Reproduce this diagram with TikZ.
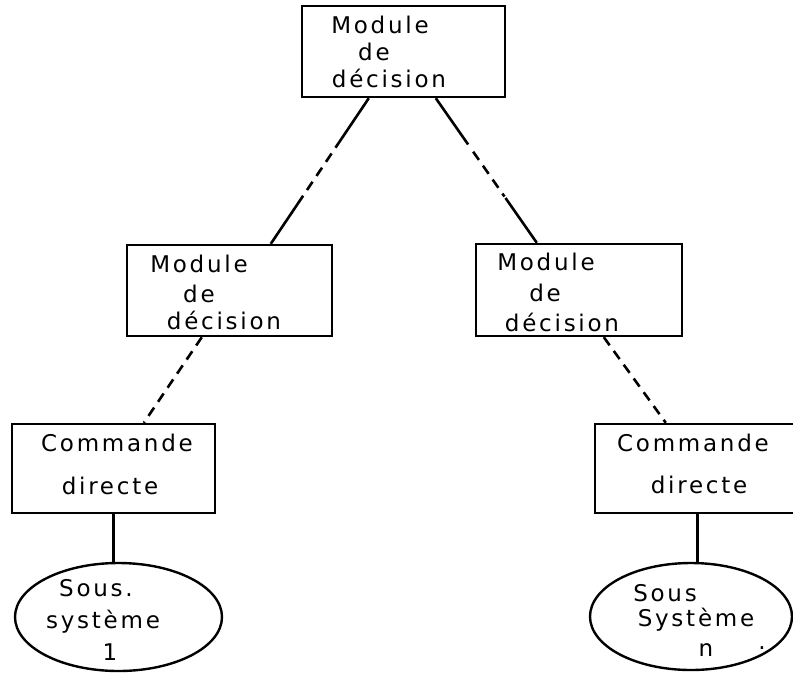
\documentclass[tikz,border=0pt]{standalone}
\usepackage{fontspec}
\setmainfont{DejaVu Sans}[LetterSpace=12]
\usetikzlibrary{shapes.geometric,calc}
\begin{document}
\begin{tikzpicture}[x=1pt,y=-1pt,
  box/.style={draw,line width=2.4pt,inner sep=0pt,rectangle},
  oval/.style={draw,line width=2.4pt,inner sep=0pt,ellipse},
  txt/.style={inner sep=0pt,font=\fontsize{23}{23}\selectfont},
  link/.style={line width=2.6pt},
  linkdash/.style={line width=2.6pt,dash pattern=on 10pt off 7pt}]
\useasboundingbox (0,0) rectangle (793,673);
\clip (0,0) rectangle (793,673);

% boxes
\node[box,minimum width=203pt,minimum height=91pt] (top) at (403.5,51.5) {};
\node[box,minimum width=205pt,minimum height=91pt] (midL) at (229.5,290.5) {};
\node[box,minimum width=206pt,minimum height=92pt] (midR) at (579,290) {};
\node[box,minimum width=203pt,minimum height=89pt] (cmdL) at (113.5,468.5) {};
\node[box,minimum width=205pt,minimum height=89pt] (cmdR) at (697.5,468.5) {};
\node[oval,minimum width=207pt,minimum height=108pt] (ellL) at (118.5,617) {};
\node[oval,minimum width=202pt,minimum height=107pt] (ellR) at (691,616.5) {};

% labels
\node[txt] (t1) at (380,25) {Module};
\node[txt] (t2) at (374,52) {de};
\node[txt] (t3) at (389,78) {décision};
\node[txt] (l1) at (199,264) {Module};
\node[txt] (l2) at (199,294) {de};
\node[txt] (l3) at (224,320) {décision};
\node[txt] (r1) at (546,262) {Module};
\node[txt] (r2) at (545,293) {de};
\node[txt] (r3) at (562,322) {décision};
\node[txt] (c1) at (117,443) {Commande};
\node[txt] (c2) at (110,486) {directe};
\node[txt] (d1) at (693,443) {Commande};
\node[txt] (d2) at (699,485) {directe};
\node[txt] (s1) at (96,588) {Sous.};
\node[txt] (s2) at (103,622) {système};
\node[txt] (s3) at (110,652) {1};
\node[txt] (u1) at (665,593) {Sous};
\node[txt] (u2) at (696,620) {Système};
\node[txt] (u3) at (706,650) {n};
\node[txt] (u4) at (762,648) {.};

% connector end points on the box edges
\coordinate (a1) at ($(top.south west)+(68,0)$);
\coordinate (b1) at ($(midL.north west)+(145,0)$);
\coordinate (a2) at ($(top.south west)+(135,0)$);
\coordinate (b2) at ($(midR.north west)+(62,0)$);
\coordinate (a3) at ($(midL.south west)+(76,0)$);
\coordinate (b3) at ($(cmdL.north west)+(133,0)$);
\coordinate (a4) at ($(midR.south west)+(129,0)$);
\coordinate (b4) at ($(cmdR.north west)+(72,0)$);

% top level: solid, dashed, solid
\draw[link] (a1) -- ($(a1)!0.34!(b1)$);
\draw[linkdash] ($(a1)!0.38!(b1)$) -- ($(a1)!0.66!(b1)$);
\draw[link] ($(a1)!0.67!(b1)$) -- (b1);
\draw[link] (a2) -- ($(a2)!0.32!(b2)$);
\draw[linkdash] ($(a2)!0.37!(b2)$) -- ($(a2)!0.68!(b2)$);
\draw[link] ($(a2)!0.69!(b2)$) -- (b2);

% second level: dashed
\draw[linkdash] (a3) -- (b3);
\draw[linkdash] (a4) -- (b4);

% to the subsystems
\draw[link] (cmdL.south) -- (cmdL.south |- ellL.north);
\draw[link] (cmdR.south) -- (cmdR.south |- ellR.north);
\end{tikzpicture}
\end{document}
